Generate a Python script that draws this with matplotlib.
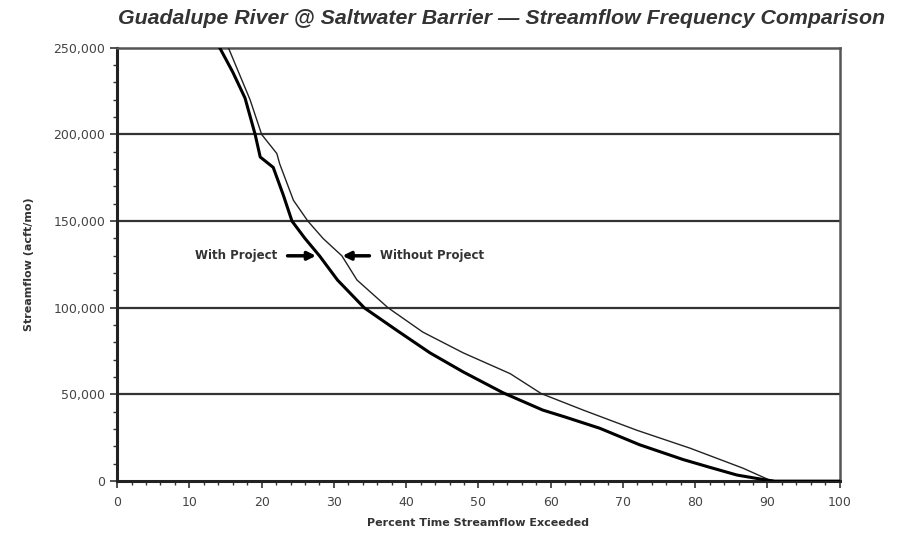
import matplotlib
matplotlib.use('Agg')
import matplotlib.pyplot as plt
from matplotlib.ticker import MultipleLocator, FuncFormatter

plt.rcParams['font.family'] = ['DejaVu Sans']

# percent time exceeded vs streamflow (acft/mo)
with_x = [14.2, 16.0, 17.7, 19.1, 19.8, 21.6, 23.0, 24.2, 26.0, 28.0, 30.5, 34.2, 38.7,
          43.3, 47.9, 53.4, 58.9, 62.0, 66.8, 72.3, 78.3, 82.0, 85.8, 89.9, 91.0, 100.0]
with_q = [250000, 236000, 221000, 200000, 187000, 181000, 165000, 150000, 140000, 130000,
          116000, 100000, 87000, 74000, 63000, 51000, 41000, 37000, 30500, 21000, 12500,
          8000, 3500, 600, 0, 0]

without_x = [15.4, 18.4, 20.0, 22.1, 22.5, 24.4, 26.4, 28.5, 31.1, 33.2, 37.5, 42.3, 47.9,
             54.4, 58.7, 64.5, 71.9, 79.3, 86.6, 90.3, 91.5, 100.0]
without_q = [250000, 220000, 200000, 189000, 183000, 162000, 150000, 140000, 130000, 116000,
             100000, 86000, 74000, 62000, 50500, 41000, 29400, 19000, 7500, 600, 0, 0]

fig = plt.figure(figsize=(9.01, 5.37), dpi=100)
ax = fig.add_axes([0.130, 0.104, 0.802, 0.807])

for yv in [50000, 100000, 150000, 200000]:
    ax.axhline(yv, color='#333333', linewidth=1.6, zorder=1)

ax.plot(without_x, without_q, color='#222222', linewidth=1.0, zorder=3)
ax.plot(with_x, with_q, color='black', linewidth=2.2, zorder=4)

ax.set_xlim(0, 100)
ax.set_ylim(0, 250000)
ax.xaxis.set_major_locator(MultipleLocator(10))
ax.xaxis.set_minor_locator(MultipleLocator(2))
ax.yaxis.set_major_locator(MultipleLocator(50000))
ax.yaxis.set_minor_locator(MultipleLocator(10000))
ax.yaxis.set_major_formatter(FuncFormatter(lambda v, p: f'{int(v):,}'))

ax.tick_params(which='both', direction='out', colors='#333333', labelsize=9,
               labelcolor='#444444')
ax.tick_params(which='major', length=5, width=1.2)
ax.tick_params(which='minor', length=3, width=1)
ax.tick_params(axis='x', pad=6)

for side in ['left', 'bottom']:
    ax.spines[side].set_linewidth(2.2)
    ax.spines[side].set_color('#222222')
for side in ['top', 'right']:
    ax.spines[side].set_linewidth(1.8)
    ax.spines[side].set_color('#555555')

ax.annotate('', xy=(27.9, 130000), xytext=(23.2, 130000),
            arrowprops=dict(arrowstyle='-|>', color='black', lw=2.5, mutation_scale=12))
ax.annotate('', xy=(30.8, 130000), xytext=(35.3, 130000),
            arrowprops=dict(arrowstyle='-|>', color='black', lw=2.5, mutation_scale=12))
ax.text(22.2, 130000, 'With Project', ha='right', va='center', fontsize=8.5,
        fontweight='bold', color='#333333')
ax.text(36.4, 130000, 'Without Project', ha='left', va='center', fontsize=8.5,
        fontweight='bold', color='#333333')

ax.set_xlabel('Percent Time Streamflow Exceeded', fontsize=8, fontweight='bold',
              color='#333333', labelpad=6)
ax.set_ylabel('Streamflow (acft/mo)', fontsize=8, fontweight='bold',
              color='#333333', labelpad=14)

fig.text(0.557, 0.966, 'Guadalupe River @ Saltwater Barrier \u2014 Streamflow Frequency Comparison',
         ha='center', va='center', fontsize=15.4, fontweight='bold', fontstyle='italic',
         color='#333333', family='Liberation Sans')

fig.savefig('out.png', dpi=100)
